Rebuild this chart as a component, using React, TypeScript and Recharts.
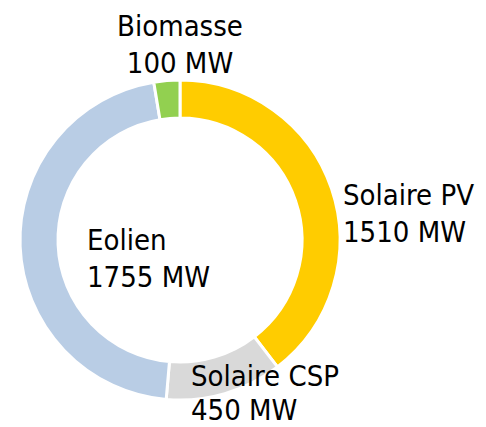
import { PieChart, Pie, Cell } from 'recharts';

const sources = ['Solaire PV', 'Solaire CSP', 'Eolien', 'Biomasse'];
const capacityMW = [1510, 450, 1755, 100];
const sliceColors = ['#FFCC00', '#D9D9D9', '#B9CDE5', '#92D050'];

// where each label sits, relative to the ring centre (Excel-style manual placement)
const labelOffsets = [
  { dx: 163, dy: -35, anchor: 'start', gap: 37 },
  { dx: 11, dy: 146, anchor: 'start', gap: 34 },
  { dx: -93, dy: 10, anchor: 'start', gap: 37 },
  { dx: 0, dy: -204, anchor: 'middle', gap: 37 },
];

const data = sources.map((name, i) => ({ name, value: capacityMW[i] }));

const FONT = '"DejaVu Sans Condensed", "DejaVu Sans", sans-serif';

function renderLabel(props: any) {
  const { cx, cy, index } = props;
  const off = labelOffsets[index];
  const x = cx + off.dx;
  const y = cy + off.dy;
  return (
    <text
      x={x}
      y={y}
      textAnchor={off.anchor}
      fill="#000"
      fontSize={29}
      fontFamily={FONT}
    >
      <tspan x={x} y={y}>{data[index].name}</tspan>
      <tspan x={x} y={y + off.gap}>{`${data[index].value} MW`}</tspan>
    </text>
  );
}

export default function App() {
  return (
    <div style={{ position: 'absolute', left: 0, top: 0, width: 486, height: 427, background: '#fff' }}>
      <PieChart width={486} height={427} margin={{ top: 0, right: 0, bottom: 0, left: 0 }}>
        <Pie
          data={data}
          dataKey="value"
          nameKey="name"
          cx={180}
          cy={240}
          innerRadius={122}
          outerRadius={160}
          startAngle={90}
          endAngle={-270}
          stroke="#fff"
          strokeWidth={3}
          label={renderLabel}
          labelLine={false}
          isAnimationActive={false}
        >
          {data.map((d, i) => (
            <Cell key={d.name} fill={sliceColors[i]} />
          ))}
        </Pie>
      </PieChart>
    </div>
  );
}
